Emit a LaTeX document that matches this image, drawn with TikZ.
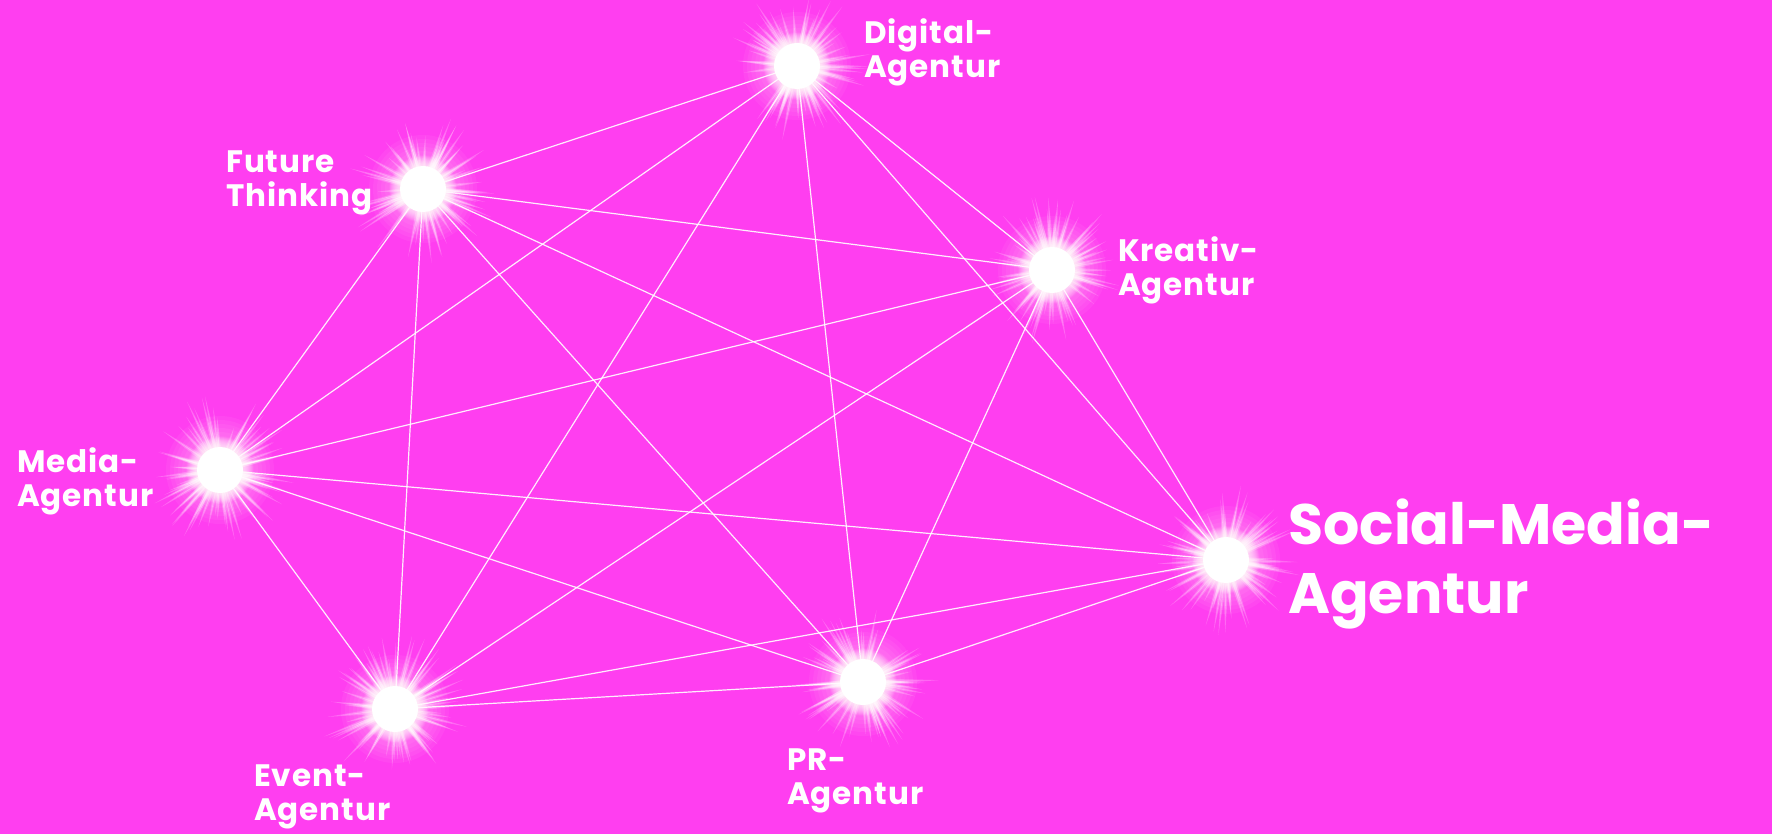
\documentclass[tikz,border=0pt]{standalone}
\usepackage{fontspec}
\setmainfont{Poppins}
\usetikzlibrary{fadings}
\definecolor{bg}{RGB}{255,62,240}
\pgfdeclareradialshading{rayshade}{\pgfpoint{0bp}{0bp}}{color(0bp)=(white); color(20bp)=(white!80!black); color(50bp)=(black)}
\pgfdeclarefading{rayfade}{\pgfuseshading{rayshade}}
\newfontfamily\smallfont{Poppins}[LetterSpace=3]
\tikzset{
  hub/.style={circle, inner sep=0pt, minimum size=46pt},
  lab/.style={text=white, font=\smallfont\bfseries\fontsize{31}{34}\selectfont, align=left, inner sep=0pt, anchor=west},
  biglab/.style={lab, font=\bfseries\fontsize{57}{69}\selectfont},
  link/.style={draw=white, line width=1.2pt, draw opacity=0.9},
}
\newcommand{\glowat}[2]{%
  \begin{scope}[shift={(#1.center)}]
    \pgfmathsetseed{#2}
    \begin{scope}[scope fading=rayfade, fading transform={scale=1.5}]
      \foreach \i in {1,...,70}{
        \pgfmathsetmacro{\ang}{rnd*360}
        \pgfmathsetmacro{\len}{44+rnd*32}
        \fill[white, opacity=0.22] (\ang+90:3.8) -- (\ang:\len) -- (\ang-90:3.8) -- cycle;
        \fill[white, opacity=0.3] (\ang+90:1.4) -- (\ang:\len*0.8) -- (\ang-90:1.4) -- cycle;
      }
    \end{scope}
    \foreach \r in {54,50,...,34}{
      \fill[white, opacity=0.05] (0,0) circle (\r);
    }
    \foreach \r in {33,32,...,23}{
      \fill[white, opacity=0.11] (0,0) circle (\r);
    }
    \fill[white] (0,0) circle (23);
  \end{scope}}
\begin{document}
\begin{tikzpicture}[x=1pt, y=-1pt]
  \useasboundingbox (0,0) rectangle (1772,834);
  \fill[bg] (0,0) rectangle (1772,834);
  % hubs
  \node[hub] (dig) at (797,66) {};
  \node[hub] (fut) at (423,189) {};
  \node[hub] (kre) at (1052,270) {};
  \node[hub] (med) at (220,470) {};
  \node[hub] (soc) at (1226,560) {};
  \node[hub] (evt) at (395,709) {};
  \node[hub] (pr)  at (863,682) {};
  % links (complete graph)
  \foreach \a/\b in {dig/fut, dig/kre, dig/med, dig/soc, dig/evt, dig/pr,
                     fut/kre, fut/med, fut/soc, fut/evt, fut/pr,
                     kre/med, kre/soc, kre/evt, kre/pr,
                     med/soc, med/evt, med/pr,
                     soc/evt, soc/pr,
                     evt/pr}
    \draw[link] (\a.center) -- (\b.center);
  % glows
  \glowat{dig}{11}
  \glowat{fut}{23}
  \glowat{kre}{37}
  \glowat{med}{41}
  \glowat{soc}{53}
  \glowat{evt}{67}
  \glowat{pr}{79}
  % labels
  \node[lab] (ldig) at (864,52) {Digital-\\Agentur};
  \node[lab] (lfut) at (226,183) {Future\\Thinking};
  \node[lab] (lkre) at (1118,270) {Kreativ-\\Agentur};
  \node[lab] (lmed) at (17,481) {Media-\\Agentur};
  \node[biglab] (lsoc) at (1288,564) {Social-Media-\\Agentur};
  \node[lab] (lpr) at (787,781) {PR-\\Agentur};
  \node[lab] (levt) at (254,797) {Event-\\Agentur};
\end{tikzpicture}
\end{document}
